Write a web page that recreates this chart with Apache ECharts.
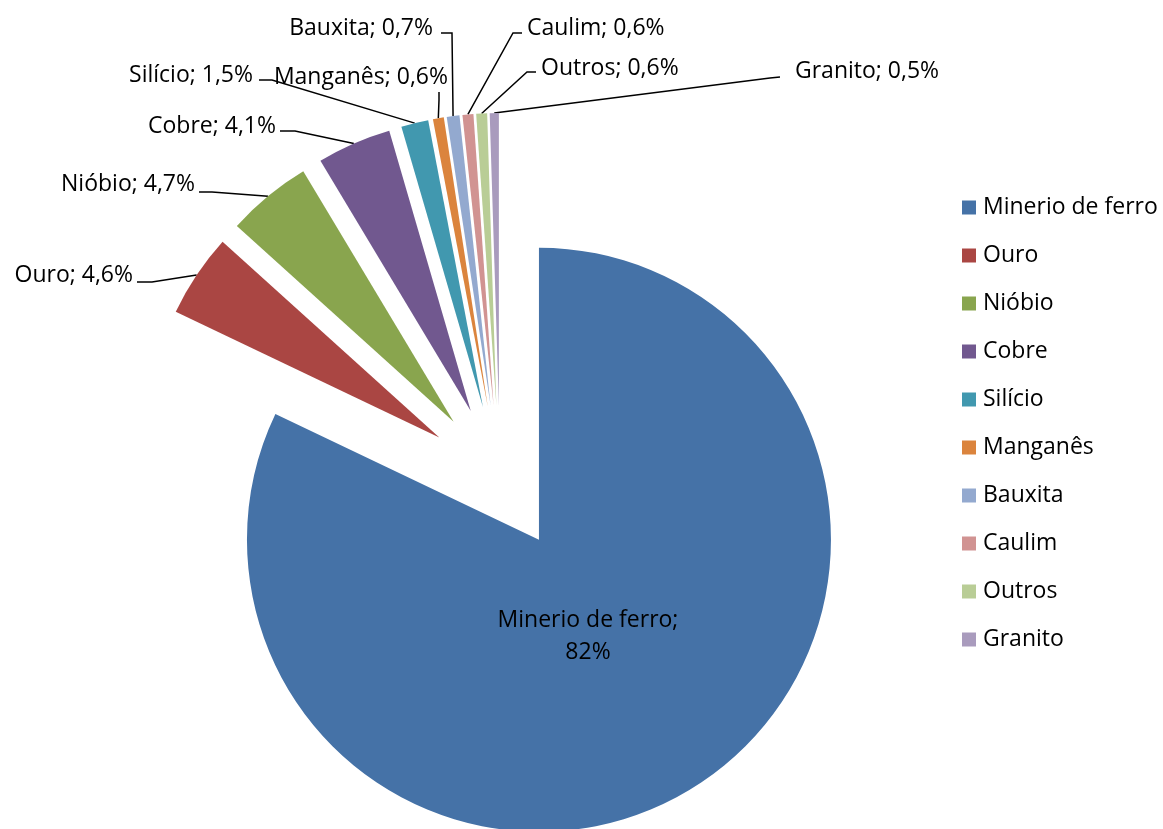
<!DOCTYPE html>
<html>
<head>
<meta charset="utf-8">
<script src="https://cdn.jsdelivr.net/npm/echarts@6/dist/echarts.min.js"></script>
<style>
  html, body { margin: 0; padding: 0; background: #fff; }
  #chart { width: 1163px; height: 829px; }
</style>
</head>
<body>
<div id="chart"></div>
<script>
// Production share by mineral (%)
const categories = ['Minerio de ferro', 'Ouro', 'Nióbio', 'Cobre', 'Silício',
  'Manganês', 'Bauxita', 'Caulim', 'Outros', 'Granito'];
const shares = [82, 4.6, 4.7, 4.1, 1.5, 0.6, 0.7, 0.6, 0.6, 0.5];
const colors = ['#4572A7', '#AA4643', '#89A54E', '#71588F', '#4198AF',
  '#DB843D', '#93A9CF', '#D19392', '#B9CD96', '#A99BBD'];

const FONT = 'Open Sans';
const FONT_SIZE = 23;
const CENTER = [500, 478];
const RADIUS = 292;
const EXPLODE = 73;

// Where each data label sits, and the elbow / end of its leader line
const labelSpots = [
  { x: 588, y: 636, align: 'center' },
  { x: 133, y: 275, align: 'right', elbow: [152, 282], end: [137, 282] },
  { x: 195, y: 184, align: 'right', elbow: [212, 192], end: [199, 192] },
  { x: 276, y: 126, align: 'right', elbow: [295, 131], end: [280, 131] },
  { x: 253, y: 75,  align: 'right', elbow: [272, 80],  end: [259, 80] },
  { x: 448, y: 77,  align: 'right', elbow: [439, 100], end: [439, 92] },
  { x: 433, y: 28,  align: 'right', elbow: [452, 33],  end: [441, 33] },
  { x: 527, y: 28,  align: 'left',  elbow: [513, 33],  end: [522, 33] },
  { x: 541, y: 68,  align: 'left',  elbow: [527, 72],  end: [536, 72] },
  { x: 795, y: 71,  align: 'left',  elbow: [770, 78],  end: [780, 77] }
];

function pct(v) {
  return String(v).replace('.', ',') + '%';
}

const chart = echarts.init(document.getElementById('chart'), null, { renderer: 'canvas' });

// Slices: every one pulled out from the centre
const sliceData = categories.map((name, i) => ({
  name: name,
  value: shares[i],
  selected: true,
  itemStyle: { color: colors[i] }
}));

// Same values again, unexploded and invisible, carrying the data labels
const labelData = categories.map((name, i) => {
  const item = { name: name, value: shares[i] };
  if (i === 0) {
    item.label = { position: 'inside', lineHeight: 32 };
    item.labelLine = { show: false };
  }
  return item;
});

chart.setOption({
  animation: false,
  legend: {
    orient: 'vertical',
    left: 962,
    top: 196,
    padding: 0,
    icon: 'rect',
    itemWidth: 14,
    itemHeight: 14,
    itemGap: 25,
    data: categories,
    textStyle: { fontFamily: FONT, fontSize: FONT_SIZE, color: '#000', padding: [0, 0, 0, 2] }
  },
  series: [{
    type: 'pie',
    center: CENTER,
    radius: RADIUS,
    startAngle: 90,
    clockwise: true,
    selectedMode: 'multiple',
    selectedOffset: EXPLODE,
    emphasis: { disabled: true },
    label: { show: false },
    labelLine: { show: false },
    data: sliceData
  }, {
    type: 'pie',
    center: CENTER,
    radius: RADIUS,
    startAngle: 90,
    clockwise: true,
    selectedMode: false,
    silent: true,
    avoidLabelOverlap: false,
    emphasis: { disabled: true },
    itemStyle: { color: 'rgba(0,0,0,0)' },
    data: labelData,
    label: {
      show: true,
      position: 'outside',
      color: '#000',
      fontFamily: FONT,
      fontSize: FONT_SIZE,
      formatter: p => p.dataIndex === 0 ? p.name + ';\n' + pct(p.value) : p.name + '; ' + pct(p.value)
    },
    labelLine: {
      show: true,
      length: 10,
      length2: 10,
      lineStyle: { color: '#000', width: 1.5 }
    },
    labelLayout: function (params) {
      const s = labelSpots[params.dataIndex];
      const out = { x: s.x, y: s.y, align: s.align, verticalAlign: 'middle' };
      if (s.end && params.labelLinePoints) {
        // start the leader on the rim of the pulled-out slice
        const p0 = params.labelLinePoints[0];
        const dx = p0[0] - CENTER[0];
        const dy = p0[1] - CENTER[1];
        const len = Math.hypot(dx, dy) || 1;
        const start = [p0[0] + EXPLODE * dx / len, p0[1] + EXPLODE * dy / len];
        out.labelLinePoints = [start, s.elbow, s.end];
      }
      return out;
    }
  }]
});
</script>
</body>
</html>
